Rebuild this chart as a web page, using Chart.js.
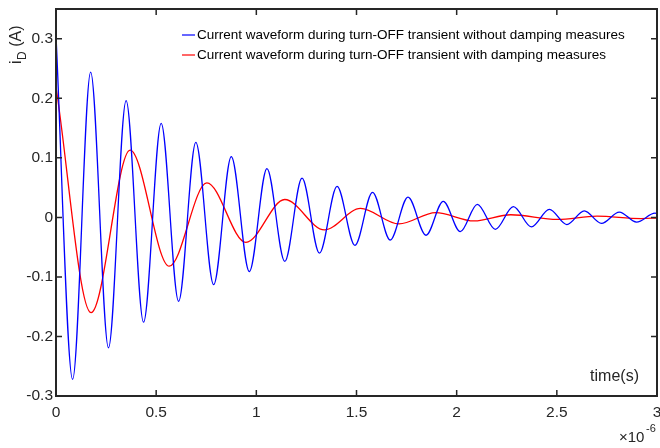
<!DOCTYPE html>
<html>
<head>
<meta charset="utf-8">
<script src="https://cdn.jsdelivr.net/npm/chart.js@4.4.0/dist/chart.umd.min.js"></script>
<style>
html, body { margin: 0; padding: 0; background: #fff; }
</style>
</head>
<body>
<canvas id="waveChart" width="660" height="448"></canvas>
<script>
// axis ticks (time in units of 1e-6 s)
var xTickValues = [0, 0.5, 1, 1.5, 2, 2.5, 3];
var xTickLabels = ['0', '0.5', '1', '1.5', '2', '2.5', '3'];
var yTickValues = [-0.3, -0.2, -0.1, 0, 0.1, 0.2, 0.3];
var yTickLabels = ['-0.3', '-0.2', '-0.1', '0', '0.1', '0.2', '0.3'];

var seriesNames = [
  'Current waveform during turn-OFF transient without damping measures',
  'Current waveform during turn-OFF transient with damping measures'
];

// without damping: start, then each peak / trough
var blueTime = [0, 0.083, 0.173, 0.262, 0.350, 0.437, 0.525, 0.612, 0.698, 0.787,
  0.875, 0.965, 1.053, 1.142, 1.228, 1.315, 1.403, 1.492, 1.580, 1.668,
  1.757, 1.847, 1.933, 2.018, 2.103, 2.193, 2.283, 2.373, 2.463, 2.550,
  2.637, 2.723, 2.812, 2.898, 2.990, 3.0];
var blueCurrent = [0.305, -0.272, 0.244, -0.219, 0.196, -0.176, 0.158, -0.141, 0.126, -0.113,
  0.102, -0.091, 0.082, -0.074, 0.066, -0.060, 0.052, -0.047, 0.042, -0.038,
  0.034, -0.030, 0.027, -0.024, 0.022, -0.020, 0.018, -0.016, 0.0135, -0.012,
  0.011, -0.010, 0.009, -0.008, 0.007, 0.0068];

// with damping
var redTime = [0, 0.175, 0.370, 0.565, 0.753, 0.948, 1.142, 1.340, 1.520, 1.712,
  1.895, 2.087, 2.270, 2.503, 2.700, 2.920, 3.0];
var redCurrent = [0.219, -0.160, 0.113, -0.082, 0.058, -0.042, 0.030, -0.021, 0.015, -0.011,
  0.008, -0.006, 0.0044, -0.0034, 0.002, -0.002, -0.001];

var FONT = '"Liberation Sans", Arial, sans-serif';
var AXIS_COLOR = '#262626';

function toPoints(xs, ys) {
  return xs.map(function (x, i) { return { x: x, y: ys[i] }; });
}

// MATLAB style box, inward ticks, legend and the extra labels
var matlabFrame = {
  id: 'matlabFrame',
  afterDraw: function (chart) {
    var ctx = chart.ctx;
    var a = chart.chartArea;
    var xs = chart.scales.x, ys = chart.scales.y;
    var tl = 6;
    ctx.save();
    ctx.strokeStyle = AXIS_COLOR;
    ctx.lineWidth = 1.5;
    ctx.beginPath();
    xs.ticks.forEach(function (t) {
      var px = xs.getPixelForValue(t.value);
      ctx.moveTo(px, a.bottom); ctx.lineTo(px, a.bottom - tl);
      ctx.moveTo(px, a.top); ctx.lineTo(px, a.top + tl);
    });
    ys.ticks.forEach(function (t) {
      var py = ys.getPixelForValue(t.value);
      ctx.moveTo(a.left, py); ctx.lineTo(a.left + tl, py);
      ctx.moveTo(a.right, py); ctx.lineTo(a.right - tl, py);
    });
    ctx.stroke();
    ctx.lineWidth = 2;
    ctx.strokeRect(a.left, a.top, a.right - a.left, a.bottom - a.top);

    // legend (no box)
    ctx.font = '13.5px ' + FONT;
    ctx.textBaseline = 'middle';
    ctx.textAlign = 'left';
    chart.data.datasets.forEach(function (ds, i) {
      var y = 35 + i * 20;
      ctx.strokeStyle = ds.borderColor;
      ctx.lineWidth = 1.2;
      ctx.beginPath();
      ctx.moveTo(182, y); ctx.lineTo(195, y);
      ctx.stroke();
      ctx.fillStyle = '#000';
      ctx.fillText(ds.label, 197, y);
    });

    // x label inside the axes
    ctx.fillStyle = AXIS_COLOR;
    ctx.font = '16px ' + FONT;
    ctx.textAlign = 'right';
    ctx.fillText('time(s)', 639, 377);

    // exponent
    ctx.textAlign = 'left';
    ctx.font = '15px ' + FONT;
    ctx.fillText('\u00d710', 619, 438);
    ctx.font = '11px ' + FONT;
    ctx.fillText('-6', 646, 429);

    // y label i_D (A), rotated
    ctx.translate(21, 64);
    ctx.rotate(-Math.PI / 2);
    ctx.textBaseline = 'alphabetic';
    ctx.font = '16px ' + FONT;
    ctx.fillText('i', 0, 0);
    var w = ctx.measureText('i').width;
    ctx.font = '12px ' + FONT;
    ctx.fillText('D', w + 0.5, 5);
    w += 0.5 + ctx.measureText('D').width;
    ctx.font = '16px ' + FONT;
    ctx.fillText(' (A)', w, 0);
    ctx.restore();
  }
};

var ctx = document.getElementById('waveChart').getContext('2d');
var waveChart = new Chart(ctx, {
  type: 'line',
  data: {
    datasets: [{
      label: seriesNames[0],
      data: toPoints(blueTime, blueCurrent),
      borderColor: '#0000ff',
      borderWidth: 1.3,
      pointRadius: 0,
      cubicInterpolationMode: 'monotone',
      fill: false
    }, {
      label: seriesNames[1],
      data: toPoints(redTime, redCurrent),
      borderColor: '#ff0000',
      borderWidth: 1.3,
      pointRadius: 0,
      cubicInterpolationMode: 'monotone',
      fill: false
    }]
  },
  options: {
    responsive: false,
    animation: false,
    devicePixelRatio: 1,
    layout: { padding: { top: 9, right: 3, left: 0, bottom: 0 } },
    plugins: { legend: { display: false }, tooltip: { enabled: false } },
    scales: {
      x: {
        type: 'linear',
        min: 0,
        max: 3,
        grid: { display: false, drawTicks: false },
        border: { display: false },
        afterBuildTicks: function (s) {
          s.ticks = xTickValues.map(function (v) { return { value: v }; });
        },
        afterFit: function (s) {
          s.height = 52;
          s.paddingLeft = 0;
          s.paddingRight = 0;
        },
        ticks: {
          maxRotation: 0,
          padding: 7,
          color: AXIS_COLOR,
          font: { family: FONT, size: 15.5 },
          callback: function (v, i) { return xTickLabels[i]; }
        }
      },
      y: {
        type: 'linear',
        min: -0.3,
        max: 0.35,
        grid: { display: false, drawTicks: false },
        border: { display: false },
        afterBuildTicks: function (s) {
          s.ticks = yTickValues.map(function (v) { return { value: v }; });
        },
        afterFit: function (s) {
          s.width = 56;
          s.paddingTop = 0;
          s.paddingBottom = 0;
        },
        ticks: {
          padding: 3,
          color: AXIS_COLOR,
          font: { family: FONT, size: 15.5 },
          callback: function (v, i) { return yTickLabels[i]; }
        }
      }
    }
  },
  plugins: [matlabFrame]
});
</script>
</body>
</html>
